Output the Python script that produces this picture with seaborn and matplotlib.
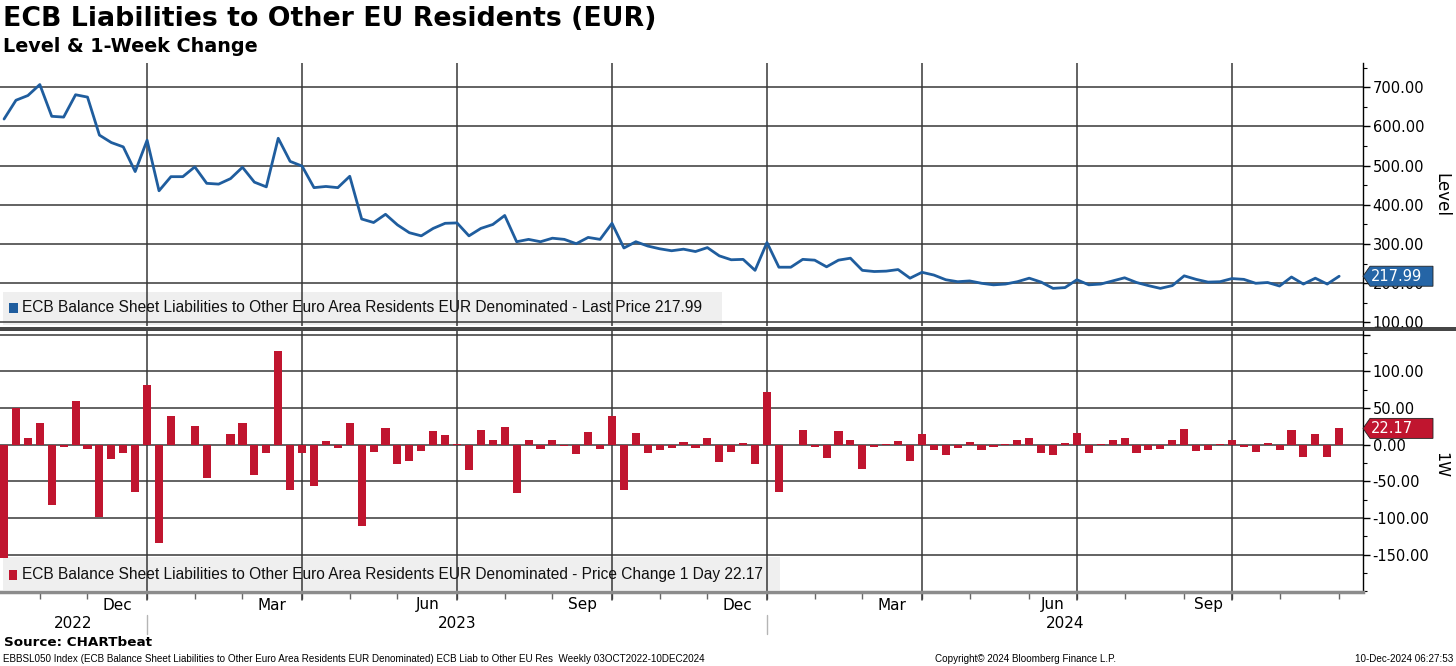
import numpy as np
import pandas as pd
import seaborn as sns
import matplotlib.pyplot as plt
import matplotlib.transforms as mtransforms
from matplotlib.patches import Rectangle, Polygon
from matplotlib.lines import Line2D
from matplotlib.ticker import MultipleLocator, FuncFormatter

# weekly values (Fridays, 14 Oct 2022 .. 06 Dec 2024)
level = [
    619, 667, 679, 707, 626, 624, 681, 675, 578, 559,
    548, 485, 565, 436, 472, 472, 497, 455, 453, 467,
    496, 458, 446, 570, 511, 499, 444, 447, 444, 473,
    364, 355, 376, 349, 329, 321, 340, 353, 354, 321,
    340, 350, 373, 306, 312, 306, 315, 312, 301, 317,
    312, 353, 290, 306, 295, 288, 283, 287, 281, 291,
    270, 260, 261, 233, 304, 241, 241, 261, 259, 242,
    259, 264, 233, 230, 231, 235, 213, 228, 221, 209,
    204, 206, 200, 196, 198, 204, 213, 203, 187, 189,
    209, 196, 198, 206, 214, 202, 194, 187, 194, 219,
    210, 203, 204, 212, 210, 200, 202, 193, 216, 198,
    213, 198, 217.99,
]
change = [
    -155, 50, 9, 30, -82, -3, 59, -6, -99, -20,
    -12, -64, 82, -134, 39, 0, 26, -45, -1, 14,
    30, -41, -12, 128, -62, -12, -56, 5, -5, 29,
    -111, -10, 23, -26, -22, -9, 19, 13, 1, -35,
    20, 7, 24, -66, 6, -6, 7, -2, -13, 17,
    -6, 39, -62, 16, -12, -7, -4, 3, -5, 9,
    -23, -10, 2, -27, 72, -65, 0, 20, -3, -18,
    18, 6, -33, -3, 1, 5, -22, 14, -7, -14,
    -4, 3, -7, -3, 1, 6, 9, -12, -14, 2,
    16, -12, 1, 7, 9, -12, -7, -6, 6, 21,
    -8, -7, 0.5, 7, -3, -10, 2, -7, 20, -17,
    15, -17, 22.17,
]
dates = pd.date_range("2022-10-14", periods=len(level), freq="7D")

level_ticks = [100, 200, 300, 400, 500, 600, 700]
change_ticks = [-150, -100, -50, 0, 50, 100, 150]
month_names = {12: "Dec", 3: "Mar", 6: "Jun", 9: "Sep"}

title = "ECB Liabilities to Other EU Residents (EUR)"
subtitle = "Level & 1-Week Change"
level_label = "ECB Balance Sheet Liabilities to Other Euro Area Residents EUR Denominated - Last Price 217.99"
change_label = "ECB Balance Sheet Liabilities to Other Euro Area Residents EUR Denominated - Price Change 1 Day 22.17"
footer = ("EBBSL050 Index (ECB Balance Sheet Liabilities to Other Euro Area Residents EUR Denominated) "
          "ECB Liab to Other EU Res  Weekly 03OCT2022-10DEC2024")

BLUE = "#1f5d9e"
RED = "#c0152f"
GRID = "#383838"
BOX = "#efefef"
NARROW = ["Liberation Sans", "DejaVu Sans"]

W, H = 1456, 666
sns.set_theme(style="white")
plt.rcParams["font.family"] = ["DejaVu Sans"]
plt.rcParams["text.color"] = "black"
plt.rcParams["axes.labelcolor"] = "black"


def fx(px):
    return px / W


def fy(py):
    return 1 - py / H


fig = plt.figure(figsize=(W / 100, H / 100), dpi=100)
ax1 = fig.add_axes([0, fy(326), fx(1363), fy(63) - fy(326)])
ax2 = fig.add_axes([0, fy(592), fx(1363), fy(331) - fy(592)])

df = pd.DataFrame({"i": np.arange(len(level)), "level": level, "change": change})

sns.lineplot(data=df, x="i", y="level", ax=ax1, color=BLUE, linewidth=2.0, zorder=3)
sns.barplot(data=df, x="i", y="change", ax=ax2, color=RED, width=0.68,
            saturation=1, linewidth=0, zorder=2)

# calendar positions on the weekly index
month = dates.to_period("M")
month_starts = [i for i in range(1, len(dates)) if month[i] != month[i - 1]]
quarter_starts = [i for i in month_starts if dates[i].month in (1, 4, 7, 10)]
year_starts = [i for i in month_starts if dates[i].month == 1]

x0, x1 = -0.34, 114.0
for ax in (ax1, ax2):
    ax.set_xlim(x0, x1)
    ax.set_xlabel("")
    ax.set_ylabel("")
    ax.yaxis.tick_right()
    ax.set_axisbelow(True)
    ax.grid(axis="y", color=GRID, linewidth=1.1)
    ax.grid(axis="x", visible=False)
    for s in ("top", "left", "bottom"):
        ax.spines[s].set_visible(False)
    ax.spines["right"].set_color("black")
    ax.spines["right"].set_linewidth(1)
    ax.tick_params(axis="y", which="major", direction="out", length=5, width=1,
                   colors="black", labelsize=10.5, pad=2)
    ax.tick_params(axis="y", which="minor", direction="out", length=3, width=0.8,
                   colors="black", right=True, left=False)
    for q in quarter_starts:
        ax.axvline(q, color=GRID, linewidth=1.1, zorder=0.6)

ax1.set_ylim(91, 762)
ax1.set_yticks(level_ticks)
ax1.yaxis.set_minor_locator(MultipleLocator(50))
ax1.yaxis.set_major_formatter(FuncFormatter(lambda v, p: f"{v:.2f}"))
ax1.set_xticks([])

ax2.set_ylim(-201, 155)
ax2.set_yticks(change_ticks)
ax2.yaxis.set_minor_locator(MultipleLocator(25))
ax2.yaxis.set_major_formatter(FuncFormatter(lambda v, p: "" if v > 120 else f"{v:.2f}"))
ax2.spines["bottom"].set_visible(True)
ax2.spines["bottom"].set_color("#8c8c8c")
ax2.spines["bottom"].set_linewidth(2.5)
ax2.set_xticks(month_starts)
ax2.set_xticklabels([])
ax2.tick_params(axis="x", direction="out", length=5, width=1, colors="#666666", bottom=True)

# month and year labels under the lower panel
h2 = 592 - 331
blend = mtransforms.blended_transform_factory(ax2.transData, ax2.transAxes)
for k, m in enumerate(month_starts):
    if dates[m].month in month_names and k + 1 < len(month_starts):
        pos = (m + month_starts[k + 1]) / 2
        ax2.text(pos, -(605 - 592) / h2, month_names[dates[m].month], transform=blend,
                 ha="center", va="center", fontsize=11, color="black")
for q in quarter_starts:
    ax2.add_line(Line2D([q, q], [0, -(600 - 592) / h2], transform=blend,
                        color=GRID, linewidth=1.1, clip_on=False))
edges = [x0] + year_starts + [x1]
for k in range(len(edges) - 1):
    yr = dates[max(0, int(np.ceil(edges[k])))].year
    ax2.text((edges[k] + edges[k + 1]) / 2, -(624 - 592) / h2, str(yr), transform=blend,
             ha="center", va="center", fontsize=11, color="black")
for y0 in year_starts:
    ax2.add_line(Line2D([y0, y0], [-(615 - 592) / h2, -(634 - 592) / h2], transform=blend,
                        color="#b5b5b5", linewidth=1.0, clip_on=False))


def legend_box(ax, top_px, bot_px, box, sq, text_y, text, color):
    wpx = 1363
    hpx = bot_px - top_px
    ax.add_patch(Rectangle((box[0] / wpx, (bot_px - box[3]) / hpx),
                           (box[1] - box[0]) / wpx, (box[3] - box[2]) / hpx,
                           transform=ax.transAxes, facecolor=BOX, edgecolor="none", zorder=0.3))
    ax.add_patch(Rectangle((sq[0] / wpx, (bot_px - sq[3]) / hpx),
                           (sq[1] - sq[0]) / wpx, (sq[3] - sq[2]) / hpx,
                           transform=ax.transAxes, facecolor=color, edgecolor="none", zorder=4))
    ax.text(22 / wpx, (bot_px - text_y) / hpx, text, transform=ax.transAxes,
            ha="left", va="center", fontsize=11.2, family=NARROW,
            color="#111111", zorder=5)


legend_box(ax1, 63, 326, (3, 722, 292, 325), (9, 18, 303, 313), 308, level_label, BLUE)
legend_box(ax2, 331, 592, (3, 780, 557, 590), (9, 17, 570, 580), 575, change_label, RED)


def value_tag(ax, value, color, hpx):
    lo, hi = ax.get_ylim()
    yc = (value - lo) / (hi - lo)
    hh = 10 / hpx
    xa, xb = 1 + 7 / 1363, 1 + 70 / 1363
    ax.add_patch(Polygon([(1.0, yc), (xa, yc + hh), (xb, yc + hh), (xb, yc - hh), (xa, yc - hh)],
                         closed=True, transform=ax.transAxes, facecolor=color,
                         edgecolor="#222222", linewidth=0.6, clip_on=False, zorder=6))
    ax.text(1 + 8 / 1363, yc, f"{value:.2f}", transform=ax.transAxes, ha="left", va="center",
            fontsize=10.5, color="white", zorder=7, clip_on=False)


value_tag(ax1, level[-1], "#2565a6", 263)
value_tag(ax2, change[-1], RED, 261)

# double separator between the panels
for yy in (327.6, 330.4):
    fig.add_artist(Line2D([0, 1], [fy(yy), fy(yy)], color="#333333", linewidth=1.3))

fig.text(fx(1441), fy(195), "Level", rotation=270, ha="center", va="center", fontsize=12)
fig.text(fx(1441), fy(465), "1W", rotation=270, ha="center", va="center", fontsize=11.5)

fig.text(fx(3), fy(19), title, fontsize=19.3, fontweight="bold", ha="left", va="center")
fig.text(fx(3), fy(46), subtitle, fontsize=13.8, fontweight="bold", ha="left", va="center")
fig.text(fx(4), fy(642), "Source: CHARTbeat", fontsize=9.7, fontweight="bold", ha="left", va="center")
fig.text(fx(3), fy(659), footer, fontsize=7.1, family=NARROW, ha="left", va="center")
fig.text(fx(935), fy(659), "Copyright\u00a9 2024 Bloomberg Finance L.P.", fontsize=7.1,
         family=NARROW, ha="left", va="center")
fig.text(fx(1453), fy(659), "10-Dec-2024 06:27:53", fontsize=7.1,
         family=NARROW, ha="right", va="center")

fig.savefig("out.png", dpi=100, facecolor="white")
